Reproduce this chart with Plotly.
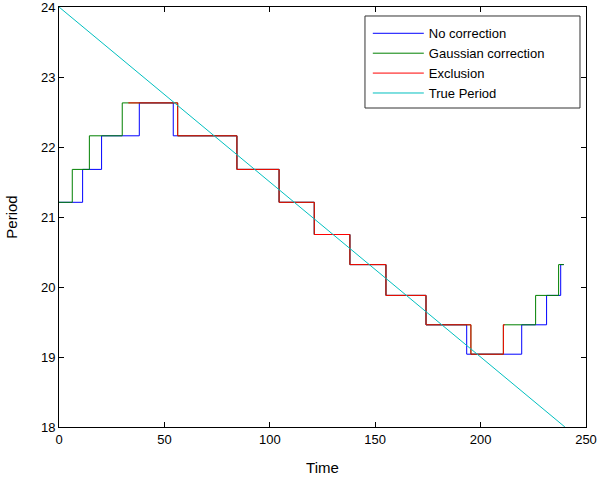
import plotly.graph_objects as go

# Levels (period values) of the step series
levels_main = [21.21, 21.68, 22.16, 22.63, 22.16, 21.68, 21.21, 20.75,
               20.32, 19.88, 19.46, 19.04, 19.46, 19.88, 20.32, 20.32]

# Change times for each series
t_no_corr = [0, 11.2, 20.2, 38.1, 54.2, 84.4, 104.4, 121.1, 138.0,
             155.1, 174.1, 193.4, 219.5, 231.3, 238.0, 239.5]
t_gauss = [0, 6.3, 14.4, 30.0, 56.3, 84.4, 104.4, 121.1, 138.0,
           155.1, 174.1, 195.4, 210.8, 226.1, 237.0, 239.5]

t_excl = [32.9, 56.3, 84.4, 104.4, 121.1, 138.0, 155.1, 174.1, 195.4, 210.8, 211.5]
levels_excl = [22.63, 22.16, 21.68, 21.21, 20.75, 20.32, 19.88, 19.46, 19.04, 19.46, 19.46]

t_true = [0, 240]
p_true = [24, 18]

fig = go.Figure()
fig.add_trace(go.Scatter(x=t_no_corr, y=levels_main, mode="lines", name="No correction",
                         line=dict(color="#0000FF", width=1, shape="hv")))
fig.add_trace(go.Scatter(x=t_gauss, y=levels_main, mode="lines", name="Gaussian correction",
                         line=dict(color="#008000", width=1, shape="hv")))
fig.add_trace(go.Scatter(x=t_excl, y=levels_excl, mode="lines", name="Exclusion",
                         line=dict(color="#FF0000", width=1, shape="hv")))
fig.add_trace(go.Scatter(x=t_true, y=p_true, mode="lines", name="True Period",
                         line=dict(color="#00BFBF", width=1)))

axis_common = dict(showgrid=False, zeroline=False, showline=True, linecolor="#000000",
                   linewidth=1, mirror="ticks", ticks="inside", ticklen=5, automargin=False,
                   ticklabeloverflow="allow",
                   tickcolor="#000000", tickfont=dict(family="Liberation Sans, Arial", size=13, color="#000"))

fig.update_layout(
    width=600, height=482,
    margin=dict(l=59, r=14, t=7, b=55),
    plot_bgcolor="white", paper_bgcolor="white",
    font=dict(family="Liberation Sans, Arial", color="#000"),
    xaxis=dict(range=[0, 250], dtick=50, tick0=0,
               title=dict(text="Time", font=dict(size=15), standoff=16), **axis_common),
    yaxis=dict(range=[18, 24], dtick=1, tick0=18,
               title=dict(text="Period", font=dict(size=15), standoff=19), **axis_common),
    legend=dict(x=0.586, y=0.973, xanchor="left", yanchor="top",
                bgcolor="rgba(0,0,0,0)", borderwidth=0,
                font=dict(family="Liberation Sans, Arial", size=13, color="#000"),
                tracegroupgap=0, itemwidth=51),
    shapes=[dict(type="rect", xref="paper", yref="paper",
                 x0=0.5806, x1=0.9886, y0=0.7595, y1=0.9786,
                 line=dict(color="#333333", width=1), fillcolor="white", layer="above")],
    showlegend=True,
)

fig.write_html("out.html", config={"displayModeBar": False},
               post_script="document.body.style.margin='0';document.body.style.padding='0';")
